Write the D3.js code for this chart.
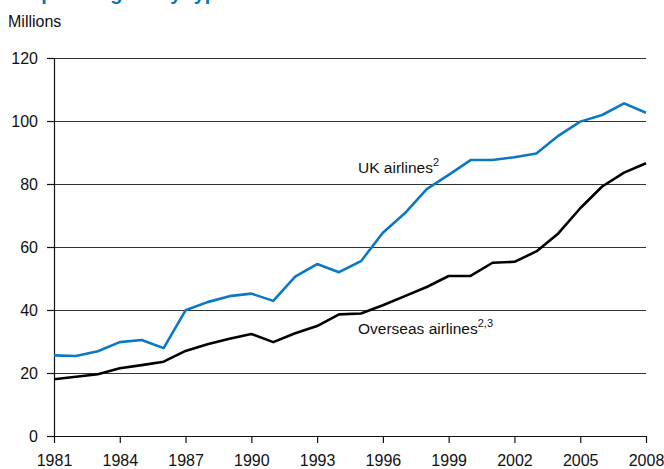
<!DOCTYPE html>
<html>
<head>
<meta charset="utf-8">
<script src="https://cdn.jsdelivr.net/npm/d3@7/dist/d3.min.js"></script>
<style>
  body { margin: 0; background: #fff; }
  svg text { font-family: "Liberation Sans", Arial, sans-serif; fill: #111; }
</style>
</head>
<body>
<div id="chart"></div>
<script>
const years = d3.range(1981, 2009);
const ukAirlines = [25.6, 25.4, 26.9, 29.8, 30.5, 27.9, 39.9, 42.5, 44.4, 45.2, 42.9, 50.6, 54.6, 52.0,
  55.5, 64.5, 70.7, 78.4, 82.9, 87.6, 87.6, 88.5, 89.7, 95.3, 99.8, 101.9, 105.6, 102.6];
const overseasAirlines = [18.0, 18.8, 19.6, 21.5, 22.5, 23.6, 27.0, 29.1, 30.9, 32.4, 29.8, 32.6, 34.9, 38.6,
  38.9, 41.5, 44.4, 47.3, 50.8, 50.8, 55.0, 55.3, 58.6, 64.3, 72.3, 79.2, 83.6, 86.6];
const yTicks = [0, 20, 40, 60, 80, 100, 120];
const xTicks = [1981, 1984, 1987, 1990, 1993, 1996, 1999, 2002, 2005, 2008];

const W = 664, H = 469;
const m = { l: 54, r: 18, t: 58, b: 33 };

const svg = d3.select('#chart').append('svg').attr('width', W).attr('height', H);

const x = d3.scaleLinear().domain([1981, 2008]).range([m.l, W - m.r]);
const y = d3.scaleLinear().domain([0, 120]).range([H - m.b, m.t]);

// cut-off title at the very top
svg.append('text').attr('x', 8).attr('y', 0)
  .attr('font-size', 20).attr('font-weight', 700).style('fill', '#0077c0')
  .text('Air passengers by type of airline');

svg.append('text').attr('x', 8).attr('y', 27).attr('font-size', 16).text('Millions');

// gridlines
svg.append('g').selectAll('line').data(yTicks.filter(d => d > 0)).join('line')
  .attr('x1', m.l).attr('x2', W - m.r)
  .attr('y1', d => y(d) + 0.5).attr('y2', d => y(d) + 0.5)
  .attr('stroke', '#333').attr('stroke-width', 1);

// y axis
const ya = svg.append('g').attr('transform', `translate(${m.l},0)`)
  .call(d3.axisLeft(y).tickValues(yTicks).tickSize(7).tickPadding(9));
ya.select('.domain').attr('stroke', '#111').attr('stroke-width', 1.2);
ya.selectAll('.tick line').attr('stroke', '#111').attr('stroke-width', 1.2);
ya.selectAll('text').attr('font-size', 16).attr('font-family', 'Liberation Sans, Arial, sans-serif').attr('fill', '#111');

// x axis
const xa = svg.append('g').attr('transform', `translate(0,${H - m.b})`)
  .call(d3.axisBottom(x).tickValues(xTicks).tickFormat(d3.format('d')).tickSize(7).tickPadding(12).tickSizeOuter(0));
xa.select('.domain').attr('stroke', '#111').attr('stroke-width', 1.2);
xa.selectAll('.tick line').attr('stroke', '#111').attr('stroke-width', 1.2);
xa.selectAll('text').attr('font-size', 16).attr('font-family', 'Liberation Sans, Arial, sans-serif').attr('fill', '#111');

const line = d3.line().x((d, i) => x(years[i])).y(d => y(d));

svg.append('path').datum(overseasAirlines).attr('d', line)
  .attr('fill', 'none').attr('stroke', '#000').attr('stroke-width', 2.6).attr('stroke-linejoin', 'round');
svg.append('path').datum(ukAirlines).attr('d', line)
  .attr('fill', 'none').attr('stroke', '#0a78c2').attr('stroke-width', 2.6).attr('stroke-linejoin', 'round');

// series labels
const lbl = (tx, ty, txt, sup) => {
  const t = svg.append('text').attr('x', tx).attr('y', ty).attr('font-size', 15.5);
  t.append('tspan').text(txt);
  t.append('tspan').attr('font-size', 11).attr('dy', -7).text(sup);
};
lbl(358, 173, 'UK airlines', '2');
lbl(358, 334, 'Overseas airlines', '2,3');
</script>
</body>
</html>
